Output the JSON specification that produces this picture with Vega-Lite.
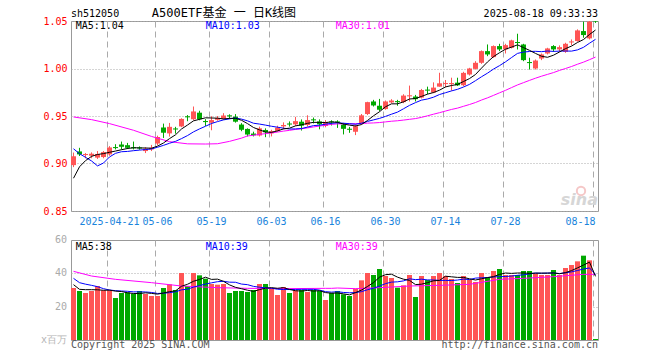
{
  "$schema": "https://vega.github.io/schema/vega-lite/v6.json",
  "background": "#ffffff",
  "padding": {"left": 40, "top": 6, "right": 63, "bottom": 8},
  "bounds": "flush",
  "spacing": 29,
  "config": {
    "view": {"stroke": "#999999", "strokeWidth": 1},
    "axis": {"labelFont": "DejaVu Sans Mono", "labelFontSize": 10, "ticks": false, "domain": false, "gridColor": "#aaaaaa", "gridWidth": 1, "labelOverlap": false},
    "text": {"font": "DejaVu Sans Mono", "fontSize": 10},
    "line": {"strokeWidth": 1}
  },
  "datasets": {
    "k": [
      {"d":"2025-04-11","o":0.8983,"h":0.9115,"l":0.8962,"c":0.9076,"v":31.2,"m5":0.8845,"m10":0.9155,"m30":0.9490,"vm5":33.2,"vm10":37.0,"vm30":41.2},
      {"d":"2025-04-14","o":0.9127,"h":0.9165,"l":0.9079,"c":0.9096,"v":29.4,"m5":0.8965,"m10":0.9103,"vm5":30.4,"vm10":34.4},
      {"d":"2025-04-15","o":0.9089,"h":0.9110,"l":0.9055,"c":0.9100,"v":28.2,"m5":0.9030,"m10":0.9065,"vm5":30.2,"vm10":33.5},
      {"d":"2025-04-16","o":0.9082,"h":0.9117,"l":0.9055,"c":0.9103,"v":29.4,"m5":0.9075,"m10":0.9027,"m30":0.9462,"vm5":30.2,"vm10":32.8,"vm30":38.4},
      {"d":"2025-04-17","o":0.9062,"h":0.9131,"l":0.9048,"c":0.9100,"v":32.4,"m5":0.9095,"m10":0.8975,"vm5":30.12,"vm10":32.0},
      {"d":"2025-04-18","o":0.9068,"h":0.9131,"l":0.9055,"c":0.9120,"v":29.8,"m5":0.9104,"m10":0.9005,"vm5":29.84,"vm10":30.8},
      {"d":"2025-04-21","o":0.9096,"h":0.9183,"l":0.9082,"c":0.9169,"v":29.8,"m5":0.9118,"m10":0.9069,"m30":0.9420,"vm5":29.92,"vm10":30.0},
      {"d":"2025-04-22","o":0.9173,"h":0.9203,"l":0.9148,"c":0.9162,"v":25.2,"m5":0.9131,"m10":0.9107,"vm5":29.32,"vm10":29.6,"vm30":36.4},
      {"d":"2025-04-23","o":0.9200,"h":0.9231,"l":0.9148,"c":0.9176,"v":28.2,"m5":0.9145,"m10":0.9124,"vm5":29.08,"vm10":29.4},
      {"d":"2025-04-24","o":0.9193,"h":0.9217,"l":0.9152,"c":0.9165,"v":28.6,"m5":0.9158,"m10":0.9127,"vm5":28.32,"vm10":29.22},
      {"d":"2025-04-25","o":0.9171,"h":0.9231,"l":0.9148,"c":0.9160,"v":27.8,"m5":0.9166,"m10":0.9135,"m30":0.9350,"vm5":27.92,"vm10":28.88},
      {"d":"2025-04-28","o":0.9169,"h":0.9180,"l":0.9145,"c":0.9158,"v":29.4,"m5":0.9164,"m10":0.9141,"vm5":27.84,"vm10":28.88},
      {"d":"2025-04-29","o":0.9131,"h":0.9172,"l":0.9110,"c":0.9155,"v":27.6,"m5":0.9163,"m10":0.9147,"vm5":28.32,"vm10":28.82},
      {"d":"2025-04-30","o":0.9148,"h":0.9196,"l":0.9131,"c":0.9165,"v":26.4,"m5":0.9161,"m10":0.9153,"m30":0.9285,"vm5":27.96,"vm10":28.52,"vm30":34.4},
      {"d":"2025-05-06","o":0.9210,"h":0.9293,"l":0.9193,"c":0.9279,"v":26.4,"m5":0.9183,"m10":0.9171,"vm5":27.52,"vm10":27.92},
      {"d":"2025-05-07","o":0.9379,"h":0.9420,"l":0.9269,"c":0.9324,"v":31.2,"m5":0.9216,"m10":0.9191,"vm5":28.2,"vm10":28.06},
      {"d":"2025-05-08","o":0.9317,"h":0.9427,"l":0.9283,"c":0.9386,"v":33.4,"m5":0.9262,"m10":0.9213,"m30":0.9230,"vm5":29.0,"vm10":28.42},
      {"d":"2025-05-09","o":0.9369,"h":0.9386,"l":0.9314,"c":0.9358,"v":30.0,"m5":0.9302,"m10":0.9233,"vm5":29.48,"vm10":28.9},
      {"d":"2025-05-12","o":0.9390,"h":0.9476,"l":0.9383,"c":0.9469,"v":40.2,"m5":0.9363,"m10":0.9262,"vm5":32.24,"vm10":30.1,"vm30":32.4},
      {"d":"2025-05-13","o":0.9497,"h":0.9510,"l":0.9445,"c":0.9486,"v":32.4,"m5":0.9405,"m10":0.9294,"m30":0.9207,"vm5":33.44,"vm10":30.48},
      {"d":"2025-05-14","o":0.9466,"h":0.9600,"l":0.9455,"c":0.9548,"v":40.2,"m5":0.9449,"m10":0.9333,"vm5":35.24,"vm10":31.72},
      {"d":"2025-05-15","o":0.9535,"h":0.9555,"l":0.9455,"c":0.9466,"v":38.8,"m5":0.9465,"m10":0.9364,"vm5":36.32,"vm10":32.66},
      {"d":"2025-05-16","o":0.9447,"h":0.9467,"l":0.9395,"c":0.9436,"v":36.8,"m5":0.9481,"m10":0.9392,"m30":0.9205,"vm5":37.68,"vm10":33.58},
      {"d":"2025-05-19","o":0.9429,"h":0.9498,"l":0.9350,"c":0.9457,"v":33.6,"m5":0.9479,"m10":0.9421,"vm5":36.36,"vm10":34.3},
      {"d":"2025-05-20","o":0.9460,"h":0.9500,"l":0.9450,"c":0.9480,"v":33.2,"m5":0.9477,"m10":0.9441,"m30":0.9208,"vm5":36.52,"vm10":34.98,"vm30":31.4},
      {"d":"2025-05-21","o":0.9470,"h":0.9530,"l":0.9462,"c":0.9505,"v":33.6,"m5":0.9469,"m10":0.9459,"vm5":35.2,"vm10":35.22},
      {"d":"2025-05-22","o":0.9507,"h":0.9518,"l":0.9470,"c":0.9496,"v":28.2,"m5":0.9475,"m10":0.9470,"m30":0.9233,"vm5":33.08,"vm10":34.7},
      {"d":"2025-05-23","o":0.9493,"h":0.9520,"l":0.9430,"c":0.9440,"v":29.4,"m5":0.9476,"m10":0.9479,"vm5":31.6,"vm10":34.64},
      {"d":"2025-05-26","o":0.9410,"h":0.9425,"l":0.9340,"c":0.9355,"v":29.4,"m5":0.9455,"m10":0.9467,"m30":0.9267,"vm5":30.76,"vm10":33.56},
      {"d":"2025-05-27","o":0.9364,"h":0.9370,"l":0.9285,"c":0.9305,"v":28.8,"m5":0.9420,"m10":0.9449,"m30":0.9290,"vm5":29.88,"vm10":33.2,"vm30":31.0},
      {"d":"2025-05-28","o":0.9315,"h":0.9335,"l":0.9285,"c":0.9298,"v":30.0,"m5":0.9379,"m10":0.9424,"m30":0.9297,"vm5":29.16,"vm10":32.18},
      {"d":"2025-05-29","o":0.9295,"h":0.9388,"l":0.9284,"c":0.9370,"v":33.6,"m5":0.9354,"m10":0.9415,"m30":0.9307,"vm5":30.24,"vm10":31.66},
      {"d":"2025-05-30","o":0.9353,"h":0.9370,"l":0.9277,"c":0.9329,"v":33.6,"m5":0.9331,"m10":0.9404,"m30":0.9314,"vm5":31.08,"vm10":31.34},
      {"d":"2025-06-03","o":0.9318,"h":0.9355,"l":0.9285,"c":0.9340,"v":31.0,"m5":0.9328,"m10":0.9392,"m30":0.9322,"vm5":31.4,"vm10":31.08},
      {"d":"2025-06-04","o":0.9343,"h":0.9398,"l":0.9336,"c":0.9377,"v":27.0,"m5":0.9343,"m10":0.9382,"m30":0.9331,"vm5":31.04,"vm10":30.46},
      {"d":"2025-06-05","o":0.9391,"h":0.9433,"l":0.9360,"c":0.9405,"v":31.8,"m5":0.9364,"m10":0.9372,"m30":0.9341,"vm5":31.4,"vm10":30.28,"vm30":30.8},
      {"d":"2025-06-06","o":0.9421,"h":0.9443,"l":0.9388,"c":0.9410,"v":28.2,"m5":0.9372,"m10":0.9363,"m30":0.9349,"vm5":30.32,"vm10":30.28},
      {"d":"2025-06-09","o":0.9412,"h":0.9491,"l":0.9395,"c":0.9446,"v":29.8,"m5":0.9396,"m10":0.9364,"m30":0.9359,"vm5":29.56,"vm10":30.32},
      {"d":"2025-06-10","o":0.9440,"h":0.9464,"l":0.9347,"c":0.9398,"v":30.0,"m5":0.9407,"m10":0.9368,"m30":0.9366,"vm5":29.36,"vm10":30.38},
      {"d":"2025-06-11","o":0.9405,"h":0.9508,"l":0.9388,"c":0.9457,"v":28.8,"m5":0.9423,"m10":0.9383,"m30":0.9375,"vm5":29.72,"vm10":30.38},
      {"d":"2025-06-12","o":0.9465,"h":0.9484,"l":0.9422,"c":0.9454,"v":30.0,"m5":0.9433,"m10":0.9399,"m30":0.9385,"vm5":29.36,"vm10":30.38},
      {"d":"2025-06-13","o":0.9443,"h":0.9464,"l":0.9360,"c":0.9412,"v":29.4,"m5":0.9433,"m10":0.9403,"m30":0.9394,"vm5":29.6,"vm10":29.96},
      {"d":"2025-06-16","o":0.9395,"h":0.9457,"l":0.9381,"c":0.9436,"v":24.0,"m5":0.9431,"m10":0.9414,"m30":0.9403,"vm5":28.44,"vm10":29.0,"vm30":31.0},
      {"d":"2025-06-17","o":0.9443,"h":0.9455,"l":0.9400,"c":0.9432,"v":28.2,"m5":0.9438,"m10":0.9423,"m30":0.9412,"vm5":28.08,"vm10":28.72,"vm30":31.0},
      {"d":"2025-06-18","o":0.9443,"h":0.9455,"l":0.9375,"c":0.9432,"v":29.4,"m5":0.9433,"m10":0.9428,"m30":0.9417,"vm5":28.2,"vm10":28.96,"vm30":31.2},
      {"d":"2025-06-19","o":0.9410,"h":0.9427,"l":0.9306,"c":0.9365,"v":27.4,"m5":0.9415,"m10":0.9424,"m30":0.9418,"vm5":27.68,"vm10":28.52},
      {"d":"2025-06-20","o":0.9366,"h":0.9385,"l":0.9323,"c":0.9355,"v":26.4,"m5":0.9404,"m10":0.9419,"m30":0.9417,"vm5":27.08,"vm10":28.34},
      {"d":"2025-06-23","o":0.9334,"h":0.9410,"l":0.9299,"c":0.9393,"v":30.8,"m5":0.9395,"m10":0.9413,"m30":0.9419,"vm5":28.44,"vm10":28.44,"vm30":30.8},
      {"d":"2025-06-24","o":0.9420,"h":0.9521,"l":0.9410,"c":0.9507,"v":35.8,"m5":0.9410,"m10":0.9424,"m30":0.9420,"vm5":29.96,"vm10":29.02},
      {"d":"2025-06-25","o":0.9521,"h":0.9650,"l":0.9510,"c":0.9646,"v":40.2,"m5":0.9453,"m10":0.9443,"m30":0.9425,"vm5":32.12,"vm10":30.16},
      {"d":"2025-06-26","o":0.9653,"h":0.9670,"l":0.9600,"c":0.9611,"v":39.0,"m5":0.9502,"m10":0.9459,"m30":0.9427,"vm5":34.44,"vm10":31.06},
      {"d":"2025-06-27","o":0.9608,"h":0.9680,"l":0.9549,"c":0.9566,"v":42.6,"m5":0.9545,"m10":0.9475,"m30":0.9431,"vm5":37.68,"vm10":32.38,"vm30":31.4},
      {"d":"2025-06-30","o":0.9573,"h":0.9663,"l":0.9566,"c":0.9653,"v":38.4,"m5":0.9597,"m10":0.9496,"m30":0.9438,"vm5":39.2,"vm10":33.82},
      {"d":"2025-07-01","o":0.9643,"h":0.9677,"l":0.9635,"c":0.9663,"v":37.2,"m5":0.9628,"m10":0.9519,"m30":0.9445,"vm5":39.48,"vm10":34.72},
      {"d":"2025-07-02","o":0.9657,"h":0.9670,"l":0.9608,"c":0.9646,"v":31.4,"m5":0.9628,"m10":0.9541,"m30":0.9450,"vm5":37.72,"vm10":34.92},
      {"d":"2025-07-03","o":0.9646,"h":0.9729,"l":0.9635,"c":0.9715,"v":32.8,"m5":0.9649,"m10":0.9576,"m30":0.9457,"vm5":36.48,"vm10":35.46},
      {"d":"2025-07-04","o":0.9707,"h":0.9820,"l":0.9653,"c":0.9718,"v":39.0,"m5":0.9679,"m10":0.9612,"m30":0.9465,"vm5":35.76,"vm10":36.72,"vm30":32.4},
      {"d":"2025-07-07","o":0.9705,"h":0.9722,"l":0.9653,"c":0.9677,"v":25.8,"m5":0.9684,"m10":0.9641,"m30":0.9473,"vm5":33.24,"vm10":36.22},
      {"d":"2025-07-08","o":0.9694,"h":0.9785,"l":0.9684,"c":0.9774,"v":38.4,"m5":0.9706,"m10":0.9667,"m30":0.9486,"vm5":33.48,"vm10":36.48},
      {"d":"2025-07-09","o":0.9778,"h":0.9809,"l":0.9729,"c":0.9767,"v":36.0,"m5":0.9730,"m10":0.9679,"m30":0.9502,"vm5":34.4,"vm10":36.06},
      {"d":"2025-07-10","o":0.9747,"h":0.9854,"l":0.9740,"c":0.9799,"v":38.4,"m5":0.9747,"m10":0.9698,"m30":0.9519,"vm5":35.52,"vm10":36.0},
      {"d":"2025-07-11","o":0.9809,"h":0.9955,"l":0.9809,"c":0.9844,"v":40.2,"m5":0.9772,"m10":0.9726,"m30":0.9535,"vm5":35.76,"vm10":35.76,"vm30":32.8},
      {"d":"2025-07-14","o":0.9836,"h":0.9879,"l":0.9802,"c":0.9847,"v":38.4,"m5":0.9806,"m10":0.9745,"m30":0.9552,"vm5":38.28,"vm10":35.76},
      {"d":"2025-07-15","o":0.9836,"h":0.9903,"l":0.9767,"c":0.9847,"v":36.6,"m5":0.9821,"m10":0.9764,"m30":0.9569,"vm5":37.92,"vm10":35.7},
      {"d":"2025-07-16","o":0.9851,"h":0.9903,"l":0.9816,"c":0.9823,"v":34.2,"m5":0.9832,"m10":0.9781,"m30":0.9583,"vm5":37.56,"vm10":35.98},
      {"d":"2025-07-17","o":0.9824,"h":0.9965,"l":0.9813,"c":0.9954,"v":38.4,"m5":0.9863,"m10":0.9805,"m30":0.9602,"vm5":37.56,"vm10":36.54},
      {"d":"2025-07-18","o":0.9937,"h":1.0007,"l":0.9926,"c":1.0000,"v":36.0,"m5":0.9894,"m10":0.9833,"m30":0.9621,"vm5":36.72,"vm10":36.24,"vm30":33.4},
      {"d":"2025-07-21","o":0.9996,"h":1.0077,"l":0.9989,"c":1.0060,"v":34.8,"m5":0.9937,"m10":0.9872,"m30":0.9642,"vm5":36.0,"vm10":37.14},
      {"d":"2025-07-22","o":1.0060,"h":1.0190,"l":1.0049,"c":1.0183,"v":40.2,"m5":1.0004,"m10":0.9913,"m30":0.9668,"vm5":36.72,"vm10":37.32},
      {"d":"2025-07-23","o":1.0183,"h":1.0253,"l":1.0130,"c":1.0148,"v":37.8,"m5":1.0069,"m10":0.9951,"m30":0.9691,"vm5":37.44,"vm10":37.5},
      {"d":"2025-07-24","o":1.0120,"h":1.0243,"l":1.0113,"c":1.0236,"v":41.4,"m5":1.0125,"m10":0.9994,"m30":0.9717,"vm5":38.04,"vm10":37.8},
      {"d":"2025-07-25","o":1.0236,"h":1.0260,"l":1.0183,"c":1.0201,"v":42.6,"m5":1.0166,"m10":1.0030,"m30":0.9744,"vm5":39.36,"vm10":38.04,"vm30":36.4},
      {"d":"2025-07-28","o":1.0201,"h":1.0260,"l":1.0158,"c":1.0246,"v":39.0,"m5":1.0203,"m10":1.0070,"m30":0.9770,"vm5":40.2,"vm10":38.1},
      {"d":"2025-07-29","o":1.0218,"h":1.0303,"l":1.0211,"c":1.0296,"v":39.0,"m5":1.0225,"m10":1.0115,"m30":0.9799,"vm5":39.96,"vm10":38.34},
      {"d":"2025-07-30","o":1.0279,"h":1.0366,"l":1.0200,"c":1.0268,"v":39.0,"m5":1.0249,"m10":1.0159,"m30":0.9827,"vm5":40.2,"vm10":38.82},
      {"d":"2025-07-31","o":1.0253,"h":1.0260,"l":1.0077,"c":1.0088,"v":41.4,"m5":1.0220,"m10":1.0173,"m30":0.9851,"vm5":40.2,"vm10":39.12,"vm30":37.0},
      {"d":"2025-08-01","o":1.0068,"h":1.0113,"l":0.9989,"c":1.0057,"v":41.4,"m5":1.0191,"m10":1.0179,"m30":0.9875,"vm5":39.96,"vm10":39.66},
      {"d":"2025-08-04","o":1.0000,"h":1.0095,"l":0.9989,"c":1.0084,"v":39.8,"m5":1.0159,"m10":1.0181,"m30":0.9898,"vm5":40.12,"vm10":40.16},
      {"d":"2025-08-05","o":1.0105,"h":1.0158,"l":1.0088,"c":1.0148,"v":39.0,"m5":1.0129,"m10":1.0177,"m30":0.9919,"vm5":40.12,"vm10":40.04},
      {"d":"2025-08-06","o":1.0158,"h":1.0218,"l":1.0148,"c":1.0211,"v":39.0,"m5":1.0118,"m10":1.0184,"m30":0.9938,"vm5":40.12,"vm10":40.16},
      {"d":"2025-08-07","o":1.0236,"h":1.0246,"l":1.0176,"c":1.0201,"v":42.0,"m5":1.0140,"m10":1.0180,"m30":0.9957,"vm5":40.24,"vm10":40.22,"vm30":38.0},
      {"d":"2025-08-08","o":1.0201,"h":1.0243,"l":1.0176,"c":1.0225,"v":39.0,"m5":1.0174,"m10":1.0183,"m30":0.9980,"vm5":39.76,"vm10":39.86},
      {"d":"2025-08-11","o":1.0176,"h":1.0271,"l":1.0165,"c":1.0260,"v":43.2,"m5":1.0209,"m10":1.0184,"m30":1.0000,"vm5":40.44,"vm10":40.28},
      {"d":"2025-08-12","o":1.0274,"h":1.0306,"l":1.0246,"c":1.0285,"v":45.0,"m5":1.0236,"m10":1.0183,"m30":1.0021,"vm5":41.64,"vm10":40.88},
      {"d":"2025-08-13","o":1.0289,"h":1.0412,"l":1.0282,"c":1.0401,"v":47.2,"m5":1.0274,"m10":1.0196,"m30":1.0045,"vm5":43.28,"vm10":41.7},
      {"d":"2025-08-14","o":1.0394,"h":1.0493,"l":1.0324,"c":1.0352,"v":50.6,"m5":1.0305,"m10":1.0223,"m30":1.0067,"vm5":44.96,"vm10":42.6,"vm30":39.4},
      {"d":"2025-08-15","o":1.0317,"h":1.0507,"l":1.0306,"c":1.0493,"v":47.8,"m5":1.0358,"m10":1.0266,"m30":1.0093,"vm5":46.72,"vm10":43.24},
      {"d":"2025-08-18","o":1.0520,"h":1.0550,"l":1.0480,"c":1.0495,"v":0.6,"m5":1.0405,"m10":1.0307,"m30":1.0120,"vm5":38.2,"vm10":39.32,"vm30":39.4}
    ]
  },
  "vconcat": [
    {
      "width": 527,
      "height": 190,
      "layer": [
        {
          "data": {"name": "k"},
          "mark": {"type": "rule", "clip": true, "strokeWidth": 1},
          "encoding": {
            "x": {
              "field": "d", "type": "ordinal",
              "scale": {"paddingInner": 0.1667, "paddingOuter": 0},
              "axis": {
                "title": null,
                "values": ["2025-04-21","2025-05-06","2025-05-19","2025-06-03","2025-06-16","2025-06-30","2025-07-14","2025-07-28","2025-08-18"],
                "bandPosition": 0,
                "labelExpr": "datum.value == '2025-04-21' ? datum.value : slice(datum.value, 5)",
                "labelColor": "#1a84dc",
                "labelAngle": 0,
                "labelPadding": 5,
                "labelFlush": false,
                "labelAlign": {"condition": {"test": "datum.value == '2025-08-18'", "value": "right"}, "value": "center"},
                "grid": true,
                "gridDash": [6, 4]
              }
            },
            "y": {
              "field": "l", "type": "quantitative",
              "scale": {"domain": [0.85, 1.05], "zero": false, "nice": false},
              "axis": {
                "title": null,
                "values": [0.85, 0.9, 0.95, 1.0, 1.05],
                "format": ".2f",
                "labelColor": "#ff0000",
                "labelPadding": 4,
                "grid": true,
                "gridDash": [1, 2]
              }
            },
            "y2": {"field": "h"},
            "color": {"condition": {"test": "datum.c >= datum.o", "value": "#ff5555"}, "value": "#00a800"}
          }
        },
        {
          "data": {"name": "k"},
          "mark": {"type": "bar", "clip": true},
          "encoding": {
            "x": {"field": "d", "type": "ordinal"},
            "y": {"field": "o", "type": "quantitative"},
            "y2": {"field": "c"},
            "color": {"condition": {"test": "datum.c >= datum.o", "value": "#ff5555"}, "value": "#00a800"}
          }
        },
        {
          "data": {"name": "k"},
          "transform": [{"filter": "isValid(datum.m30)"}],
          "mark": {"type": "line", "color": "#ff00ff", "strokeWidth": 1},
          "encoding": {"x": {"field": "d", "type": "ordinal"}, "y": {"field": "m30", "type": "quantitative"}}
        },
        {
          "data": {"name": "k"},
          "mark": {"type": "line", "color": "#0000ff", "strokeWidth": 1},
          "encoding": {"x": {"field": "d", "type": "ordinal"}, "y": {"field": "m10", "type": "quantitative"}}
        },
        {
          "data": {"name": "k"},
          "mark": {"type": "line", "color": "#000000", "strokeWidth": 1},
          "encoding": {"x": {"field": "d", "type": "ordinal"}, "y": {"field": "m5", "type": "quantitative"}}
        },
        {
          "data": {"values": [{"t": "sina"}]},
          "mark": {"type": "text", "align": "right", "baseline": "alphabetic", "font": "DejaVu Sans", "fontSize": 16, "fontWeight": "bold", "fontStyle": "italic", "color": "#d6d6d6"},
          "encoding": {
            "x": {"datum": "2025-08-18", "type": "ordinal", "bandPosition": 1},
            "y": {"datum": 0.8563, "type": "quantitative"},
            "text": {"field": "t"}
          }
        },
        {
          "data": {"values": [{"t": "logo"}]},
          "mark": {"type": "point", "shape": "circle", "filled": false, "size": 70, "strokeWidth": 2, "color": "#f2b0b0"},
          "encoding": {
            "x": {"datum": "2025-08-14", "type": "ordinal", "bandPosition": 0},
            "y": {"datum": 0.8711, "type": "quantitative"}
          }
        },
        {
          "data": {"values": [{"t": "sh512050"}]},
          "mark": {"type": "text", "align": "left", "baseline": "alphabetic", "color": "#000000"},
          "encoding": {
            "x": {"datum": "2025-04-11", "type": "ordinal", "bandPosition": 0},
            "y": {"datum": 1.0547, "type": "quantitative"},
            "text": {"field": "t"}
          }
        },
        {
          "data": {"values": [{"t": "A500ETF基金 一 日K线图"}]},
          "mark": {"type": "text", "align": "center", "baseline": "alphabetic", "font": "DejaVu Sans Mono, Noto Sans CJK SC", "fontSize": 12, "color": "#000000"},
          "encoding": {
            "x": {"datum": "2025-05-21", "type": "ordinal", "bandPosition": 0.6},
            "y": {"datum": 1.0547, "type": "quantitative"},
            "text": {"field": "t"}
          }
        },
        {
          "data": {"values": [{"t": "2025-08-18 09:33:33"}]},
          "mark": {"type": "text", "align": "right", "baseline": "alphabetic", "color": "#000000"},
          "encoding": {
            "x": {"datum": "2025-08-18", "type": "ordinal", "bandPosition": 1},
            "y": {"datum": 1.0547, "type": "quantitative"},
            "text": {"field": "t"}
          }
        },
        {
          "data": {"values": [{"t": "MA5:1.04"}]},
          "mark": {"type": "text", "align": "left", "baseline": "alphabetic", "color": "#000000"},
          "encoding": {
            "x": {"datum": "2025-04-11", "type": "ordinal", "bandPosition": 0.94},
            "y": {"datum": 1.0413, "type": "quantitative"},
            "text": {"field": "t"}
          }
        },
        {
          "data": {"values": [{"t": "MA10:1.03"}]},
          "mark": {"type": "text", "align": "left", "baseline": "alphabetic", "color": "#0000ff"},
          "encoding": {
            "x": {"datum": "2025-05-16", "type": "ordinal", "bandPosition": 0.54},
            "y": {"datum": 1.0413, "type": "quantitative"},
            "text": {"field": "t"}
          }
        },
        {
          "data": {"values": [{"t": "MA30:1.01"}]},
          "mark": {"type": "text", "align": "left", "baseline": "alphabetic", "color": "#ff00ff"},
          "encoding": {
            "x": {"datum": "2025-06-18", "type": "ordinal", "bandPosition": 0.14},
            "y": {"datum": 1.0413, "type": "quantitative"},
            "text": {"field": "t"}
          }
        }
      ]
    },
    {
      "width": 527,
      "height": 100,
      "layer": [
        {
          "data": {"name": "k"},
          "mark": {"type": "bar"},
          "encoding": {
            "x": {
              "field": "d", "type": "ordinal",
              "scale": {"paddingInner": 0.1667, "paddingOuter": 0},
              "axis": {
                "title": null,
                "values": ["2025-04-21","2025-05-06","2025-05-19","2025-06-03","2025-06-16","2025-06-30","2025-07-14","2025-07-28","2025-08-18"],
                "bandPosition": 0,
                "labels": false,
                "grid": true,
                "gridDash": [6, 4]
              }
            },
            "y": {
              "field": "v", "type": "quantitative",
              "scale": {"domain": [0, 60], "nice": false, "zero": true},
              "axis": {
                "title": null,
                "values": [20, 40],
                "labels": false,
                "grid": true,
                "gridDash": [1, 2]
              }
            },
            "color": {"condition": {"test": "datum.c >= datum.o", "value": "#ff5555"}, "value": "#00a800"}
          }
        },
        {
          "data": {"name": "k"},
          "transform": [{"filter": "isValid(datum.vm30)"}],
          "mark": {"type": "line", "color": "#ff00ff", "strokeWidth": 1},
          "encoding": {"x": {"field": "d", "type": "ordinal"}, "y": {"field": "vm30", "type": "quantitative"}}
        },
        {
          "data": {"name": "k"},
          "mark": {"type": "line", "color": "#0000ff", "strokeWidth": 1},
          "encoding": {"x": {"field": "d", "type": "ordinal"}, "y": {"field": "vm10", "type": "quantitative"}}
        },
        {
          "data": {"name": "k"},
          "mark": {"type": "line", "color": "#000000", "strokeWidth": 1},
          "encoding": {"x": {"field": "d", "type": "ordinal"}, "y": {"field": "vm5", "type": "quantitative"}}
        },
        {
          "data": {"values": [{"t": "60", "y": 60}, {"t": "40", "y": 40}, {"t": "20", "y": 20}]},
          "mark": {"type": "text", "align": "right", "baseline": "middle", "dx": -4, "color": "#aaaaaa", "fontSize": 10},
          "encoding": {
            "x": {"datum": "2025-04-11", "type": "ordinal", "bandPosition": 0},
            "y": {"field": "y", "type": "quantitative"},
            "text": {"field": "t"}
          }
        },
        {
          "data": {"values": [{"t": "x百万"}]},
          "mark": {"type": "text", "align": "right", "baseline": "middle", "dx": -4, "color": "#b4b4b4", "fontSize": 10},
          "encoding": {
            "x": {"datum": "2025-04-11", "type": "ordinal", "bandPosition": 0},
            "y": {"datum": 0, "type": "quantitative"},
            "text": {"field": "t"}
          }
        },
        {
          "data": {"values": [{"t": "MA5:38"}]},
          "mark": {"type": "text", "align": "left", "baseline": "alphabetic", "color": "#000000"},
          "encoding": {
            "x": {"datum": "2025-04-11", "type": "ordinal", "bandPosition": 0.94},
            "y": {"datum": 54, "type": "quantitative"},
            "text": {"field": "t"}
          }
        },
        {
          "data": {"values": [{"t": "MA10:39"}]},
          "mark": {"type": "text", "align": "left", "baseline": "alphabetic", "color": "#0000ff"},
          "encoding": {
            "x": {"datum": "2025-05-16", "type": "ordinal", "bandPosition": 0.54},
            "y": {"datum": 54, "type": "quantitative"},
            "text": {"field": "t"}
          }
        },
        {
          "data": {"values": [{"t": "MA30:39"}]},
          "mark": {"type": "text", "align": "left", "baseline": "alphabetic", "color": "#ff00ff"},
          "encoding": {
            "x": {"datum": "2025-06-18", "type": "ordinal", "bandPosition": 0.14},
            "y": {"datum": 54, "type": "quantitative"},
            "text": {"field": "t"}
          }
        },
        {
          "data": {"values": [{"t": "Copyright 2025 SINA.COM"}]},
          "mark": {"type": "text", "align": "left", "baseline": "alphabetic", "color": "#555555"},
          "encoding": {
            "x": {"datum": "2025-04-11", "type": "ordinal", "bandPosition": 0},
            "y": {"datum": -4.5, "type": "quantitative"},
            "text": {"field": "t"}
          }
        },
        {
          "data": {"values": [{"t": "http://finance.sina.com.cn"}]},
          "mark": {"type": "text", "align": "right", "baseline": "alphabetic", "color": "#555555"},
          "encoding": {
            "x": {"datum": "2025-08-18", "type": "ordinal", "bandPosition": 1},
            "y": {"datum": -4.5, "type": "quantitative"},
            "text": {"field": "t"}
          }
        }
      ]
    }
  ]
}
